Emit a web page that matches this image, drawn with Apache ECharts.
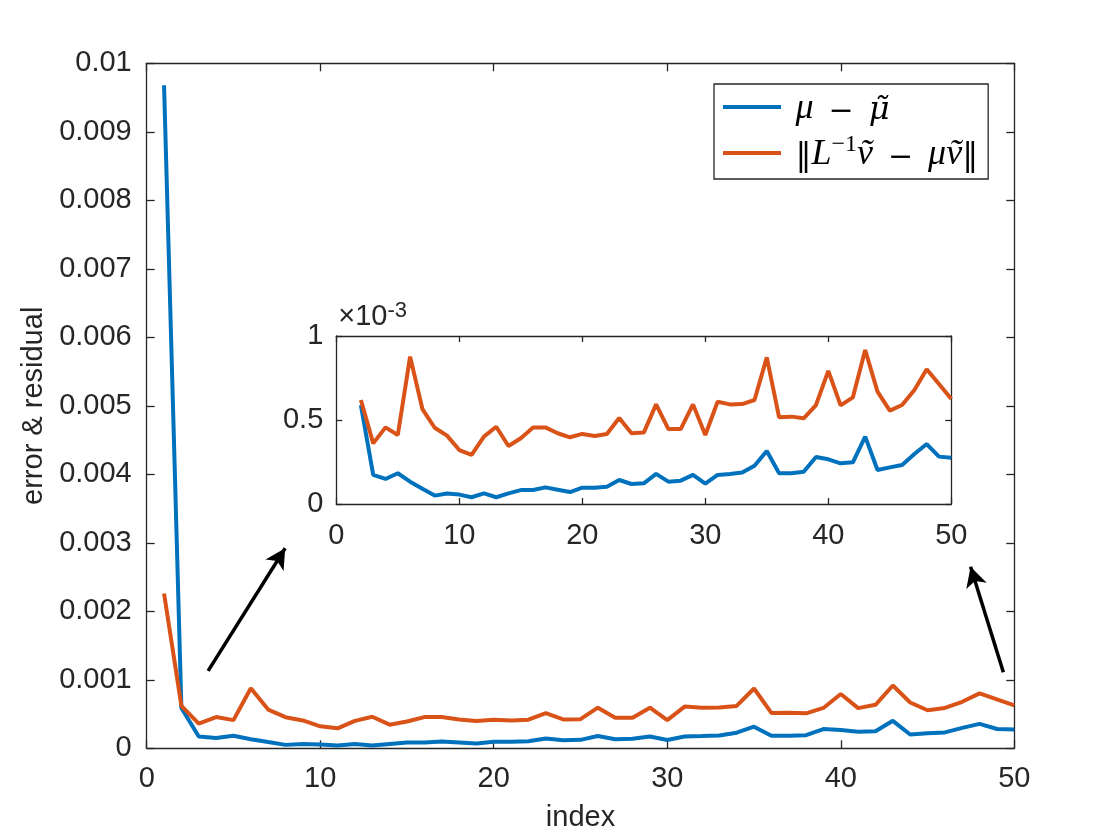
<!DOCTYPE html>
<html>
<head>
<meta charset="utf-8">
<script src="https://cdn.jsdelivr.net/npm/echarts@6/dist/echarts.min.js"></script>
<style>html,body{margin:0;padding:0;background:#fff}#c{width:1120px;height:840px}</style>
</head>
<body>
<div id="c"></div>
<script>
// index values
var idx = [];
for (var k = 1; k <= 50; k++) idx.push(k);
// mu - mu~ (units of 1e-3)
var errVals = [9.68, 0.589, 0.173, 0.149, 0.183, 0.133, 0.091, 0.050, 0.062, 0.056, 0.040,
  0.063, 0.040, 0.063, 0.083, 0.083, 0.099, 0.085, 0.071, 0.097, 0.097,
  0.103, 0.143, 0.119, 0.123, 0.179, 0.133, 0.139, 0.173, 0.121, 0.173,
  0.179, 0.187, 0.228, 0.315, 0.183, 0.183, 0.192, 0.280, 0.266, 0.242,
  0.248, 0.401, 0.202, 0.218, 0.232, 0.298, 0.357, 0.282, 0.276];
// ||L^-1 v~ - mu v~|| (units of 1e-3)
var resVals = [2.26, 0.619, 0.361, 0.456, 0.411, 0.877, 0.565, 0.454, 0.407, 0.321, 0.292,
  0.401, 0.460, 0.345, 0.391, 0.456, 0.456, 0.421, 0.397, 0.417, 0.405,
  0.417, 0.512, 0.421, 0.425, 0.593, 0.446, 0.446, 0.593, 0.411, 0.609,
  0.593, 0.595, 0.619, 0.873, 0.516, 0.520, 0.510, 0.589, 0.792, 0.587,
  0.635, 0.917, 0.669, 0.556, 0.589, 0.679, 0.802, 0.714, 0.625];
var insetStart = 2; // inset starts at index 2
// arrow annotations in main data coords [x, y(1e-3)]
var arrows = [[[3.54, 1.13], [7.98, 2.92]], [[49.37, 1.11], [47.48, 2.65]]];

var mainTicks = [0, 0.001, 0.002, 0.003, 0.004, 0.005, 0.006, 0.007, 0.008, 0.009, 0.01];

var blue = '#0072BD', orange = '#D95319', ink = '#262626';
var FONT = 'Liberation Sans, Arial, Helvetica, sans-serif';
var FS = 29;
var LW = 4;

function pairs(xs, ys) { return xs.map(function (x, i) { return [x, ys[i]]; }); }
var mainErr = pairs(idx, errVals);
var mainRes = pairs(idx, resVals);
var inErr = mainErr.filter(function (p) { return p[0] >= insetStart; });
var inRes = mainRes.filter(function (p) { return p[0] >= insetStart; });

function axisBase(gi, pos, min, max, interval, showLabel, fmt, tickLen) {
  return {
    type: 'value', gridIndex: gi, position: pos, min: min, max: max, interval: interval,
    axisLine: { show: true, onZero: false, lineStyle: { color: ink, width: 1.3 } },
    axisTick: { show: true, inside: true, length: tickLen, lineStyle: { color: ink, width: 1.3 } },
    axisLabel: { show: showLabel, color: ink, fontSize: FS, fontFamily: FONT, formatter: fmt, margin: 14 },
    splitLine: { show: false }
  };
}

var xMain = axisBase(0, 'bottom', 0, 50, 10, true, null, 8);
xMain.axisLabel.margin = 16;
xMain.name = 'index'; xMain.nameLocation = 'middle'; xMain.nameGap = 55;
xMain.nameTextStyle = { color: ink, fontSize: FS, fontFamily: FONT };
var xMainTop = axisBase(0, 'top', 0, 50, 10, false, null, 8);
var yMain = axisBase(0, 'left', 0, 10, 1, true, function (v) {
  var t = mainTicks[Math.round(v)];
  return t === 0 ? '0' : String(t);
}, 8);
yMain.axisLabel.margin = 15;
yMain.name = 'error & residual'; yMain.nameLocation = 'middle'; yMain.nameGap = 94; yMain.nameRotate = 90;
yMain.nameTextStyle = { color: ink, fontSize: FS, fontFamily: FONT };
var yMainRight = axisBase(0, 'right', 0, 10, 1, false, null, 8);

var xIn = axisBase(1, 'bottom', 0, 50, 10, true, null, 6);
xIn.axisLabel.margin = 17;
var xInTop = axisBase(1, 'top', 0, 50, 10, false, null, 6);
var yIn = axisBase(1, 'left', 0, 1, 0.5, true, function (v) { return v === 0 ? '0' : String(v); }, 6);
yIn.axisLabel.margin = 13;
yIn.name = '×10{s|-3}'; yIn.nameLocation = 'end'; yIn.nameGap = 2;
yIn.nameTextStyle = {
  color: ink, fontSize: FS, fontFamily: FONT, align: 'left', verticalAlign: 'bottom', padding: [0, 0, 0, 2],
  lineHeight: 34,
  rich: { s: { fontSize: 22, fontFamily: FONT, color: ink, verticalAlign: 'top', lineHeight: 22 } }
};
var yInRight = axisBase(1, 'right', 0, 1, 0.5, false, null, 6);

var serifFont = 'Liberation Serif, DejaVu Serif, serif';
var rich = {
  i: { fontStyle: 'italic', fontFamily: serifFont, fontSize: 36, color: '#000', lineHeight: 40, verticalAlign: 'bottom' },
  t: { fontStyle: 'italic', fontFamily: 'DejaVu Serif, serif', fontSize: 32, color: '#000', lineHeight: 40, verticalAlign: 'bottom' },
  m: { fontFamily: 'DejaVu Serif, serif', fontSize: 30, color: '#000', lineHeight: 40, verticalAlign: 'bottom' },
  n: { fontFamily: 'DejaVu Serif, serif', fontSize: 32, color: '#000', lineHeight: 40, verticalAlign: 'bottom' },
  s: { fontFamily: serifFont, fontSize: 24, color: '#000', lineHeight: 24, verticalAlign: 'top' }
};

var option = {
  animation: false,
  backgroundColor: '#fff',
  grid: [
    { left: 146.7, top: 63.3, right: 105.7, bottom: 91.7 },
    { left: 336.3, top: 336, right: 168.7, bottom: 336, show: true, backgroundColor: '#fff', borderWidth: 0 }
  ],
  xAxis: [xMain, xMainTop, xIn, xInTop],
  yAxis: [yMain, yMainRight, yIn, yInRight],
  legend: {
    left: 714, top: 84, orient: 'vertical',
    data: ['err', 'res'],
    icon: 'rect',
    backgroundColor: '#fff', borderColor: ink, borderWidth: 1.3, borderRadius: 0,
    padding: [6, 10, 6, 9], itemGap: 6, itemWidth: 58, itemHeight: 4,
    textStyle: { rich: rich, fontSize: 34 },
    formatter: function (name) {
      if (name === 'err') return ' {i|μ}{m|\u2002−\u2002}{t|μ̃}';
      return ' {n|‖}{i|L}{s|−1}{i|ṽ}{m|\u2002−\u2002}{i|μṽ}{n|‖}';
    }
  },
  series: [
    { name: 'err', type: 'line', xAxisIndex: 0, yAxisIndex: 0, data: mainErr, symbol: 'none',
      lineStyle: { color: blue, width: LW }, itemStyle: { color: blue },
      markLine: {
        silent: true, symbol: ['none', 'arrow'], symbolSize: [16, 20],
        label: { show: false },
        lineStyle: { color: '#000', width: 3.5, type: 'solid' },
        data: arrows.map(function (a) { return [{ coord: a[0] }, { coord: a[1] }]; })
      } },
    { name: 'res', type: 'line', xAxisIndex: 0, yAxisIndex: 0, data: mainRes, symbol: 'none',
      lineStyle: { color: orange, width: LW }, itemStyle: { color: orange } },
    { name: 'err', type: 'line', xAxisIndex: 2, yAxisIndex: 2, data: inErr, symbol: 'none',
      lineStyle: { color: blue, width: LW }, itemStyle: { color: blue } },
    { name: 'res', type: 'line', xAxisIndex: 2, yAxisIndex: 2, data: inRes, symbol: 'none',
      lineStyle: { color: orange, width: LW }, itemStyle: { color: orange } }
  ]
};
var chart = echarts.init(document.getElementById('c'));
chart.setOption(option);
</script>
</body>
</html>
